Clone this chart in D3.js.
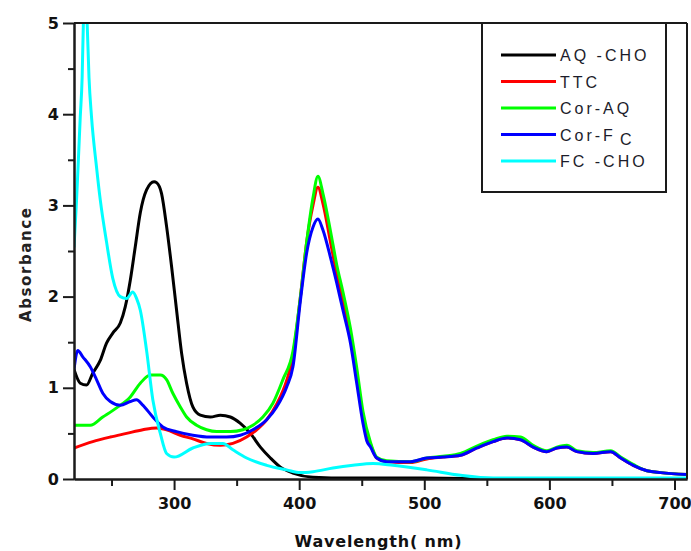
<!DOCTYPE html>
<html>
<head>
<meta charset="utf-8">
<script src="https://cdn.jsdelivr.net/npm/d3@7"></script>
<style>
  html, body { margin: 0; padding: 0; background: #fff; }
  svg { display: block; }
</style>
</head>
<body>
<svg id="chart" width="691" height="551"></svg>
<script>
// UV-vis absorption spectra, [wavelength (nm), absorbance]
const aqCho = [[220,1.20],[225,1.05],[230,1.03],[235,1.16],[241,1.30],[246,1.49],[251,1.60],[257,1.71],[261,1.89],[265,2.18],[269,2.55],[273,2.92],[278,3.17],[284,3.26],[286,3.25],[290,3.13],[294,2.77],[298,2.33],[302,1.85],[306,1.38],[310,1.05],[315,0.79],[321,0.70],[329,0.68],[337,0.70],[345,0.68],[353,0.61],[361,0.50],[369,0.35],[377,0.23],[385,0.13],[395,0.065],[411,0.02],[440,0.01],[500,0.01],[540,0.005],[600,0.0],[710,0.0]];

const ttc = [[220,0.34],[235,0.41],[249,0.46],[262,0.50],[275,0.54],[286,0.56],[294,0.54],[305,0.48],[315,0.44],[326,0.39],[337,0.37],[347,0.39],[358,0.46],[366,0.54],[374,0.65],[382,0.82],[390,1.08],[395,1.35],[401,2.0],[406,2.6],[411,3.0],[415,3.2],[419,3.02],[425,2.6],[430,2.25],[435,1.95],[441,1.58],[446,1.15],[451,0.68],[457,0.38],[462,0.23],[470,0.19],[489,0.18],[502,0.22],[515,0.24],[529,0.26],[542,0.34],[555,0.41],[566,0.45],[577,0.43],[587,0.35],[598,0.30],[606,0.34],[614,0.35],[622,0.30],[635,0.28],[649,0.30],[657,0.23],[667,0.15],[678,0.09],[689,0.07],[710,0.05]];

const corAq = [[220,0.59],[233,0.59],[243,0.68],[254,0.78],[265,0.90],[273,1.05],[281,1.14],[289,1.14],[294,1.09],[299,0.94],[305,0.79],[310,0.68],[318,0.59],[326,0.54],[334,0.52],[345,0.52],[355,0.54],[363,0.59],[371,0.68],[379,0.83],[387,1.09],[395,1.40],[401,2.0],[406,2.6],[411,3.08],[415,3.32],[419,3.13],[425,2.72],[430,2.35],[435,2.05],[441,1.65],[446,1.22],[451,0.74],[457,0.40],[462,0.24],[470,0.20],[489,0.19],[502,0.23],[515,0.25],[529,0.28],[542,0.36],[555,0.43],[566,0.47],[577,0.46],[587,0.37],[598,0.31],[606,0.35],[614,0.37],[622,0.31],[635,0.29],[649,0.31],[657,0.24],[667,0.16],[678,0.09],[689,0.07],[710,0.05]];

const corFc = [[220,1.20],[223,1.41],[227,1.34],[233,1.23],[238,1.09],[243,0.94],[249,0.85],[257,0.81],[265,0.85],[270,0.87],[275,0.81],[283,0.68],[291,0.57],[302,0.52],[315,0.48],[329,0.46],[342,0.46],[353,0.48],[363,0.54],[374,0.65],[382,0.79],[390,1.01],[395,1.23],[401,1.96],[406,2.48],[411,2.76],[415,2.85],[419,2.73],[425,2.43],[430,2.15],[435,1.85],[441,1.49],[446,1.05],[451,0.61],[454,0.42],[457,0.35],[462,0.23],[470,0.19],[489,0.19],[502,0.23],[515,0.24],[529,0.26],[542,0.34],[555,0.41],[566,0.45],[577,0.43],[587,0.35],[598,0.30],[606,0.34],[614,0.35],[622,0.30],[635,0.28],[649,0.30],[657,0.23],[667,0.15],[678,0.09],[689,0.07],[710,0.05]];

const fcCho = [[220,2.54],[222,3.05],[223.5,3.5],[225,3.97],[226.5,4.4],[227.5,5.0],[229,5.3],[230.5,5.0],[232,4.4],[234,3.97],[238,3.42],[241,3.06],[246,2.6],[251,2.2],[257,2.0],[262,1.98],[267,2.05],[270,1.98],[273,1.85],[278,1.41],[283,0.87],[289,0.5],[294,0.28],[300,0.24],[315,0.34],[329,0.39],[339,0.39],[347,0.32],[358,0.23],[374,0.15],[390,0.10],[401,0.07],[411,0.08],[427,0.12],[443,0.15],[459,0.17],[475,0.15],[502,0.10],[529,0.04],[555,0.01],[600,0.01],[710,0.01]];

const seriesNames = ["AQ-CHO", "TTC", "Cor-AQ", "Cor-FC", "FC-CHO"];
const seriesData = [aqCho, ttc, corAq, corFc, fcCho];
const seriesColors = ["#000000", "#ff0000", "#00ff00", "#0000ff", "#00ffff"];

const xMajorTicks = [300, 400, 500, 600, 700];
const xMinorTicks = [250, 350, 450, 550, 650];
const yMajorTicks = [0, 1, 2, 3, 4, 5];
const yMinorTicks = [0.5, 1.5, 2.5, 3.5, 4.5];

const svg = d3.select("#chart");
const plotLeft = 74, plotRight = 687, plotTop = 23, plotBottom = 479;

const x = d3.scaleLinear().domain([220, 710]).range([plotLeft, plotRight]);
const y = d3.scaleLinear().domain([0, 5]).range([plotBottom, plotTop]);

svg.append("defs").append("clipPath").attr("id", "plotClip")
  .append("rect").attr("x", plotLeft).attr("y", plotTop)
  .attr("width", plotRight - plotLeft).attr("height", plotBottom - plotTop);

// spectra, drawn in legend order so FC-CHO ends up on top
const line = d3.line().x(d => x(d[0])).y(d => y(d[1])).curve(d3.curveMonotoneX);
const plot = svg.append("g").attr("clip-path", "url(#plotClip)");
seriesData.forEach((s, i) => {
  plot.append("path").datum(s)
    .attr("d", line)
    .attr("fill", "none")
    .attr("stroke", seriesColors[i])
    .attr("stroke-width", 3)
    .attr("stroke-linejoin", "round");
});

// frame lines on top and right
const frameColor = "#1a1a1a";
svg.append("line").attr("x1", plotLeft).attr("x2", plotRight).attr("y1", plotTop).attr("y2", plotTop)
  .attr("stroke", frameColor).attr("stroke-width", 2);
svg.append("line").attr("x1", plotRight).attr("x2", plotRight).attr("y1", plotTop).attr("y2", plotBottom)
  .attr("stroke", frameColor).attr("stroke-width", 2);

const tickFont = "'DejaVu Sans', sans-serif";

function styleAxis(g) {
  g.select(".domain").attr("stroke", frameColor).attr("stroke-width", 2);
  g.selectAll(".tick line").attr("stroke", frameColor).attr("stroke-width", 2);
  g.selectAll(".tick text")
    .attr("fill", "#111")
    .style("font-family", tickFont)
    .style("font-weight", "bold")
    .style("font-size", "16px");
}

// bottom axis
svg.append("g").attr("transform", `translate(0,${plotBottom})`)
  .call(d3.axisBottom(x).tickValues(xMinorTicks).tickSize(7).tickFormat("").tickSizeOuter(0))
  .call(styleAxis);
svg.append("g").attr("transform", `translate(0,${plotBottom})`)
  .call(d3.axisBottom(x).tickValues(xMajorTicks).tickSize(11).tickPadding(8).tickSizeOuter(0))
  .call(styleAxis);

// left axis
svg.append("g").attr("transform", `translate(${plotLeft},0)`)
  .call(d3.axisLeft(y).tickValues(yMinorTicks).tickSize(6).tickFormat("").tickSizeOuter(0))
  .call(styleAxis);
svg.append("g").attr("transform", `translate(${plotLeft},0)`)
  .call(d3.axisLeft(y).tickValues(yMajorTicks).tickSize(11).tickPadding(4).tickFormat(d3.format("d")).tickSizeOuter(0))
  .call(styleAxis);

// axis titles
svg.append("text")
  .attr("x", 378).attr("y", 547)
  .attr("text-anchor", "middle")
  .attr("textLength", 167).attr("lengthAdjust", "spacing")
  .style("font-family", tickFont).style("font-weight", "bold").style("font-size", "16px")
  .attr("fill", "#111")
  .text("Wavelength( nm)");

svg.append("text")
  .attr("transform", "translate(31,265) rotate(-90)")
  .attr("text-anchor", "middle")
  .attr("textLength", 114).attr("lengthAdjust", "spacing")
  .style("font-family", tickFont).style("font-weight", "bold").style("font-size", "15px")
  .attr("fill", "#222")
  .text("Absorbance");

// legend
const legend = svg.append("g");
legend.append("rect")
  .attr("x", 482).attr("y", plotTop).attr("width", 666 - 482).attr("height", 192 - plotTop)
  .attr("fill", "#fff").attr("stroke", frameColor).attr("stroke-width", 2);

const legendLabels = ["AQ -CHO", "TTC", "Cor-AQ", "Cor-F", "FC -CHO"];
const rowY = d3.scalePoint().domain(d3.range(seriesNames.length)).range([55, 161]);
seriesNames.forEach((name, i) => {
  const yy = rowY(i);
  legend.append("line")
    .attr("x1", 501).attr("x2", 556).attr("y1", yy).attr("y2", yy)
    .attr("stroke", seriesColors[i]).attr("stroke-width", 3);
  const t = legend.append("text")
    .attr("x", 560).attr("y", yy + 6)
    .style("font-family", "'Liberation Sans', Arial, sans-serif")
    .style("font-size", "16px")
    .style("letter-spacing", "3px")
    .attr("fill", "#1c1c2a")
    .text(legendLabels[i]);
  if (name === "Cor-FC") {
    t.append("tspan").attr("dx", 4).attr("dy", 4).text("C");
  }
});
</script>
</body>
</html>
